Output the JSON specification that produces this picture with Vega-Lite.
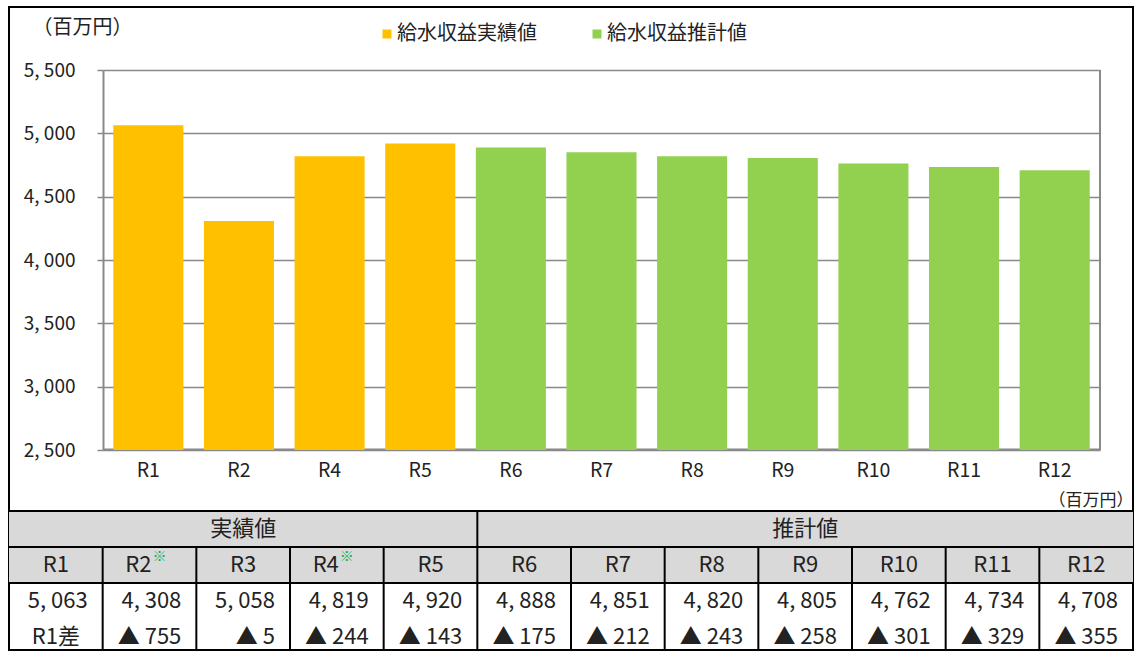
{
  "$schema": "https://vega.github.io/schema/vega-lite/v6.json",
  "width": 1124,
  "height": 643,
  "autosize": {"type": "none"},
  "padding": {"left": 9, "top": 7, "right": 1, "bottom": 1},
  "background": "white",
  "view": {"stroke": "#000000", "strokeWidth": 2},
  "config": {
    "font": "Noto Sans CJK JP",
    "axis": {"labelColor": "#222222", "titleColor": "#222222"},
    "legend": {"labelColor": "#222222"},
    "text": {"color": "#222222"}
  },
  "datasets": {
    "bars": [
      {"year": "R1", "amount": 5063, "type": "給水収益実績値"},
      {"year": "R2", "amount": 4308, "type": "給水収益実績値"},
      {"year": "R4", "amount": 4819, "type": "給水収益実績値"},
      {"year": "R5", "amount": 4920, "type": "給水収益実績値"},
      {"year": "R6", "amount": 4888, "type": "給水収益推計値"},
      {"year": "R7", "amount": 4851, "type": "給水収益推計値"},
      {"year": "R8", "amount": 4820, "type": "給水収益推計値"},
      {"year": "R9", "amount": 4805, "type": "給水収益推計値"},
      {"year": "R10", "amount": 4762, "type": "給水収益推計値"},
      {"year": "R11", "amount": 4734, "type": "給水収益推計値"},
      {"year": "R12", "amount": 4708, "type": "給水収益推計値"}
    ],
    "cols": [
      {"col": "R1", "label": "R1", "note": "", "value": "5, 063", "diff": "R1差"},
      {"col": "R2", "label": "R2", "note": "※", "value": "4, 308", "diff": "▲ 755"},
      {"col": "R3", "label": "R3", "note": "", "value": "5, 058", "diff": "▲ 5"},
      {"col": "R4", "label": "R4", "note": "※", "value": "4, 819", "diff": "▲ 244"},
      {"col": "R5", "label": "R5", "note": "", "value": "4, 920", "diff": "▲ 143"},
      {"col": "R6", "label": "R6", "note": "", "value": "4, 888", "diff": "▲ 175"},
      {"col": "R7", "label": "R7", "note": "", "value": "4, 851", "diff": "▲ 212"},
      {"col": "R8", "label": "R8", "note": "", "value": "4, 820", "diff": "▲ 243"},
      {"col": "R9", "label": "R9", "note": "", "value": "4, 805", "diff": "▲ 258"},
      {"col": "R10", "label": "R10", "note": "", "value": "4, 762", "diff": "▲ 301"},
      {"col": "R11", "label": "R11", "note": "", "value": "4, 734", "diff": "▲ 329"},
      {"col": "R12", "label": "R12", "note": "", "value": "4, 708", "diff": "▲ 355"}
    ],
    "groups": [
      {"group": "実績値", "mid": "R3"},
      {"group": "推計値", "mid": "R9"}
    ]
  },
  "layer": [
    {
      "layer": [
        {
          "data": {"name": "bars"},
          "mark": {"type": "bar"},
          "encoding": {
            "x": {
              "field": "year", "type": "nominal", "sort": null,
              "scale": {"range": [94, 1091], "paddingInner": 0.227, "paddingOuter": 0.1135},
              "axis": {
                "orient": "bottom", "offset": -201,
                "title": "（百万円）", "titleX": 1124, "titleY": 51, "titleAlign": "right",
                "titleBaseline": "middle", "titleFontSize": 17, "titleFontWeight": "normal",
                "labelAngle": 0, "labelFontSize": 19.5, "labelPadding": 12, "ticks": false,
                "domain": true, "domainColor": "#898989", "domainWidth": 2, "grid": false
              }
            },
            "y": {
              "field": "amount", "type": "quantitative",
              "scale": {"domain": [2500, 5500], "range": [443, 63], "nice": false, "zero": false},
              "axis": {
                "orient": "left", "offset": -94,
                "values": [2500, 3000, 3500, 4000, 4500, 5000, 5500],
                "labelExpr": "replace(format(datum.value, ','), ',', ', ')",
                "title": "（百万円）", "titleAngle": 0, "titleX": -21, "titleY": 20.5,
                "titleAlign": "center", "titleBaseline": "middle", "titleFontSize": 20,
                "titleFontWeight": "normal",
                "tickSize": 6, "tickColor": "#898989", "tickWidth": 1.5,
                "grid": true, "gridColor": "#898989", "gridWidth": 1.5,
                "domain": true, "domainColor": "#898989", "domainWidth": 2,
                "labelFontSize": 19, "labelPadding": 22
              }
            },
            "y2": {"datum": 2500},
            "color": {
              "field": "type", "type": "nominal",
              "scale": {"domain": ["給水収益実績値", "給水収益推計値"], "range": ["#ffc000", "#92d050"]},
              "legend": {
                "orient": "none", "legendX": 368, "legendY": 17, "direction": "horizontal",
                "title": null, "symbolType": "square", "symbolSize": 81, "symbolStrokeWidth": 0,
                "labelFontSize": 20, "columnPadding": 50, "labelOffset": 0, "padding": 0
              }
            }
          }
        },
        {
          "data": {"values": [{}]},
          "mark": {"type": "rule", "stroke": "#898989", "strokeWidth": 2},
          "encoding": {
            "x": {"datum": "R12", "type": "nominal", "bandPosition": 1.147},
            "y": {"datum": 2500, "type": "quantitative"},
            "y2": {"datum": 5500}
          }
        }
      ]
    },
    {
      "layer": [
        {
          "data": {"values": [{}]},
          "mark": {"type": "rect", "fill": "#d9d9d9"},
          "encoding": {
            "y": {
              "datum": "h", "type": "nominal", "bandPosition": 0,
              "scale": {"domain": ["h", "c", "v", "d"], "range": [504, 648], "paddingInner": 0, "paddingOuter": 0},
              "axis": null
            },
            "y2": {"datum": "c", "bandPosition": 1}
          }
        },
        {
          "data": {"values": [{"row": "h"}, {"row": "c"}, {"row": "v"}]},
          "mark": {"type": "rule", "stroke": "#000000", "strokeWidth": 2},
          "encoding": {
            "y": {"field": "row", "type": "nominal", "bandPosition": 0}
          }
        },
        {
          "data": {"name": "cols"},
          "transform": [{"filter": "datum.col !== 'R1'"}],
          "mark": {"type": "rule", "stroke": "#000000", "strokeWidth": 2},
          "encoding": {
            "x": {
              "field": "col", "type": "nominal", "bandPosition": 0,
              "scale": {"domain": ["R1", "R2", "R3", "R4", "R5", "R6", "R7", "R8", "R9", "R10", "R11", "R12"], "paddingInner": 0, "paddingOuter": 0},
              "axis": null
            },
            "y": {"datum": "c", "type": "nominal", "bandPosition": 0},
            "y2": {"datum": "d", "bandPosition": 1}
          }
        },
        {
          "data": {"values": [{}]},
          "mark": {"type": "rule", "stroke": "#000000", "strokeWidth": 2},
          "encoding": {
            "x": {"datum": "R6", "type": "nominal", "bandPosition": 0},
            "y": {"datum": "h", "type": "nominal", "bandPosition": 0},
            "y2": {"datum": "h", "bandPosition": 1}
          }
        },
        {
          "data": {"name": "groups"},
          "mark": {"type": "text", "fontSize": 22, "baseline": "middle"},
          "encoding": {
            "x": {"field": "mid", "type": "nominal", "bandPosition": 0.5},
            "y": {"datum": "h", "type": "nominal", "bandPosition": 0.5},
            "text": {"field": "group"}
          }
        },
        {
          "data": {"name": "cols"},
          "transform": [{"filter": "datum.note === ''"}],
          "mark": {"type": "text", "fontSize": 22, "baseline": "middle"},
          "encoding": {
            "x": {"field": "col", "type": "nominal", "bandPosition": 0.5},
            "y": {"datum": "c", "type": "nominal", "bandPosition": 0.5},
            "text": {"field": "label"}
          }
        },
        {
          "data": {"name": "cols"},
          "transform": [{"filter": "datum.note !== ''"}],
          "mark": {"type": "text", "fontSize": 22, "baseline": "middle", "align": "right", "dx": 2},
          "encoding": {
            "x": {"field": "col", "type": "nominal", "bandPosition": 0.5},
            "y": {"datum": "c", "type": "nominal", "bandPosition": 0.5},
            "text": {"field": "label"}
          }
        },
        {
          "data": {"name": "cols"},
          "transform": [{"filter": "datum.note !== ''"}],
          "mark": {"type": "text", "fontSize": 14, "baseline": "middle", "align": "left", "dx": 3, "dy": -8, "color": "#00b050"},
          "encoding": {
            "x": {"field": "col", "type": "nominal", "bandPosition": 0.5},
            "y": {"datum": "c", "type": "nominal", "bandPosition": 0.5},
            "text": {"field": "note"}
          }
        },
        {
          "data": {"name": "cols"},
          "mark": {"type": "text", "fontSize": 22, "baseline": "middle", "align": "right", "dx": -15},
          "encoding": {
            "x": {"field": "col", "type": "nominal", "bandPosition": 1},
            "y": {"datum": "v", "type": "nominal", "bandPosition": 0.5},
            "text": {"field": "value"}
          }
        },
        {
          "data": {"name": "cols"},
          "transform": [{"filter": "datum.col !== 'R1'"}],
          "mark": {"type": "text", "fontSize": 22, "baseline": "middle", "align": "right", "dx": -15},
          "encoding": {
            "x": {"field": "col", "type": "nominal", "bandPosition": 1},
            "y": {"datum": "d", "type": "nominal", "bandPosition": 0.5},
            "text": {"field": "diff"}
          }
        },
        {
          "data": {"name": "cols"},
          "transform": [{"filter": "datum.col === 'R1'"}],
          "mark": {"type": "text", "fontSize": 22, "baseline": "middle"},
          "encoding": {
            "x": {"field": "col", "type": "nominal", "bandPosition": 0.5},
            "y": {"datum": "d", "type": "nominal", "bandPosition": 0.5},
            "text": {"field": "diff"}
          }
        }
      ]
    }
  ],
  "resolve": {
    "scale": {"x": "independent", "y": "independent", "color": "independent"},
    "axis": {"x": "independent", "y": "independent"}
  }
}
